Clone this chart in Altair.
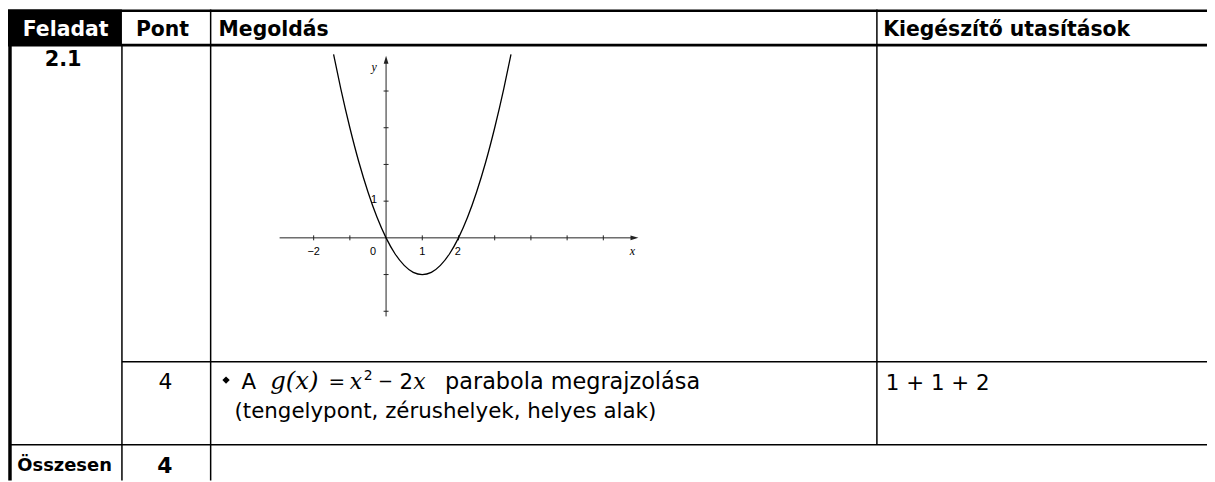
import altair as alt
import pandas as pd

# ---------------- data ----------------
HEADERS = ["Feladat", "Pont", "Megoldás", "Kiegészítő utasítások"]
TASK_ID = "2.1"
ROW_POINTS = "4"
BULLET_WORD = "A"
FORMULA_FUNC = "g(x)"
FORMULA_EQ = "="
FORMULA_BASE = "x"
FORMULA_EXP = "2"
FORMULA_MINUS = "−"
FORMULA_COEF = "2"
FORMULA_VAR = "x"
LINE1_REST = "parabola megrajzolása"
LINE2 = "(tengelypont, zérushelyek, helyes alak)"
NOTE = "1 + 1 + 2"
TOTAL_LABEL = "Összesen"
TOTAL_POINTS = "4"

CURVE_X = [-1.45, -1.25, -1.0, -0.75, -0.5, -0.25, 0.0, 0.25, 0.5, 0.75, 1.0,
           1.25, 1.5, 1.75, 2.0, 2.25, 2.5, 2.75, 3.0, 3.25, 3.45]
CURVE_Y = [5.0, 4.06, 3.0, 2.06, 1.25, 0.56, 0.0, -0.44, -0.75, -0.94, -1.0,
           -0.94, -0.75, -0.44, 0.0, 0.56, 1.25, 2.06, 3.0, 4.06, 5.0]
X_TICKS = [-2, -1, 1, 2, 3, 4, 5, 6]
Y_TICKS = [-2, -1, 1, 2, 3, 4]
X_TICK_LABELS = ["−2", "0", "1", "2"]
Y_TICK_LABELS = ["1"]
AXIS_NAMES = ["x", "y"]

# ---------------- layout (page pixels) ----------------
COL = {"left": 10, "c1": 122.7, "c2": 212, "c3": 882.7, "right": 1215}
ROW = {"top": 9.2, "head": 43.8, "r2": 362.5, "tot": 446, "bottom": 482}

PX = alt.Scale(domain=[8, 1215], range=[0, 1207], nice=False, zero=False)
PY = alt.Scale(domain=[8, 482], range=[0, 474], nice=False, zero=False)
MX = alt.Scale(domain=[-2, 6], range=[307.7, 599.3], nice=False, zero=False)
MY = alt.Scale(domain=[-2, 4], range=[303.7, 82], nice=False, zero=False)


def enc(ch, sx, sy, x="x", y="y"):
    return ch.encode(x=alt.X(f"{x}:Q", scale=sx, axis=None),
                     y=alt.Y(f"{y}:Q", scale=sy, axis=None))


def text_layer(rows, sx, sy, **props):
    df = pd.DataFrame(rows, columns=["t", "x", "y"])
    base = dict(baseline="alphabetic", align="left", color="black", font="DejaVu Sans")
    base.update(props)
    return enc(alt.Chart(df).mark_text(**base), sx, sy).encode(text="t:N")


# ---------------- table ----------------
rules = pd.DataFrame([
    # x, x2, y, y2, w
    (8, COL["right"], ROW["top"], ROW["top"], 2.5),
    (8, COL["right"], ROW["head"], ROW["head"], 3),
    (COL["left"], COL["left"], ROW["head"], ROW["bottom"], 3.5),
    (COL["c1"], COL["c1"], ROW["head"], ROW["bottom"], 1.5),
    (COL["c2"], COL["c2"], 8, ROW["bottom"], 1.5),
    (COL["c3"], COL["c3"], 8, ROW["tot"], 1.5),
    (COL["c1"], COL["right"], ROW["r2"], ROW["r2"], 1.5),
    (COL["left"], COL["right"], ROW["tot"], ROW["tot"], 1.5),
], columns=["x", "x2", "y", "y2", "w"])

rule_layer = alt.Chart(rules).mark_rule(color="black").encode(
    x=alt.X("x:Q", scale=PX, axis=None), x2="x2:Q",
    y=alt.Y("y:Q", scale=PY, axis=None), y2="y2:Q",
    strokeWidth=alt.StrokeWidth("w:Q", scale=None))

head_box = alt.Chart(pd.DataFrame({"x": [8], "x2": [COL["c1"]], "y": [8], "y2": [ROW["head"]]})
                     ).mark_rect(color="black").encode(
    x=alt.X("x:Q", scale=PX, axis=None), x2="x2:Q",
    y=alt.Y("y:Q", scale=PY, axis=None), y2="y2:Q")

bullet = enc(alt.Chart(pd.DataFrame({"x": [227.5], "y": [381]}))
             .mark_point(shape="diamond", filled=True, size=55, color="black", opacity=1), PX, PY)

t_head_white = text_layer([(HEADERS[0], 66, 35)], PX, PY, align="center", color="white",
                          fontWeight="bold", fontSize=20.5)
t_head_c = text_layer([(HEADERS[1], 163.5, 35)], PX, PY, align="center", fontWeight="bold", fontSize=20.5)
t_head_l = text_layer([(HEADERS[2], 220, 35), (HEADERS[3], 889, 35)], PX, PY,
                      fontWeight="bold", fontSize=20.5)
t_task = text_layer([(TASK_ID, 63.5, 65)], PX, PY, align="center", fontWeight="bold", fontSize=21)
t_pts = text_layer([(ROW_POINTS, 166.5, 390)], PX, PY, align="center", fontSize=22)
t_body = text_layer([(BULLET_WORD, 243, 390), (LINE2, 236, 419),
                     (NOTE, 891.7, 391), (FORMULA_COEF, 402, 390)], PX, PY, fontSize=21.5)
t_rest = text_layer([(LINE1_REST, 448, 390)], PX, PY, fontSize=22.5)
t_func = text_layer([(FORMULA_FUNC, 272, 390)], PX, PY, font="DejaVu Serif", fontStyle="italic",
                    fontSize=24.5)
t_math = text_layer([(FORMULA_BASE, 352, 390), (FORMULA_VAR, 416, 390)],
                    PX, PY, font="DejaVu Serif", fontStyle="italic", fontSize=22)
t_eq = text_layer([(FORMULA_EQ, 339, 390)], PX, PY, align="center", font="DejaVu Serif", fontSize=20)
t_exp = text_layer([(FORMULA_EXP, 366, 381)], PX, PY, fontSize=14)
t_minus = text_layer([(FORMULA_MINUS, 388, 388)], PX, PY, align="center", fontSize=18)
t_tot_l = text_layer([(TOTAL_LABEL, 65, 472.7)], PX, PY, align="center", fontWeight="bold", fontSize=18)
t_tot = text_layer([(TOTAL_POINTS, 166, 475)], PX, PY, align="center", fontWeight="bold", fontSize=22)

table = alt.layer(head_box, rule_layer, bullet, t_head_white, t_head_c, t_head_l, t_task,
                  t_pts, t_body, t_rest, t_func, t_math, t_eq, t_exp, t_minus, t_tot_l, t_tot)

# ---------------- sketch of the parabola ----------------
axes = pd.DataFrame([(-2.94, 6.86, 0, 0), (0, 0, -2.14, 4.85)], columns=["x", "x2", "y", "y2"])
axis_layer = alt.Chart(axes).mark_rule(color="#222", strokeWidth=1).encode(
    x=alt.X("x:Q", scale=MX, axis=None), x2="x2:Q",
    y=alt.Y("y:Q", scale=MY, axis=None), y2="y2:Q")

arrow_x = enc(alt.Chart(pd.DataFrame({"x": [6.86], "y": [0]})).mark_point(
    shape="M -1 -0.6 L 1 0 L -1 0.6 Z", size=64, filled=True, color="#222", opacity=1), MX, MY)
arrow_y = enc(alt.Chart(pd.DataFrame({"x": [0], "y": [4.85]})).mark_point(
    shape="M -0.6 1 L 0 -1 L 0.6 1 Z", size=64, filled=True, color="#222", opacity=1), MX, MY)

xt = enc(alt.Chart(pd.DataFrame({"x": X_TICKS, "y": [0] * len(X_TICKS)})).mark_point(
    shape="M 0 -1 L 0 1", size=25, filled=False, color="#222", strokeWidth=1, opacity=1), MX, MY)
yt = enc(alt.Chart(pd.DataFrame({"x": [0] * len(Y_TICKS), "y": Y_TICKS})).mark_point(
    shape="M -1 0 L 1 0", size=25, filled=False, color="#222", strokeWidth=1, opacity=1), MX, MY)

curve = enc(alt.Chart(pd.DataFrame({"x": CURVE_X, "y": CURVE_Y})).mark_line(
    color="black", strokeWidth=1.3, interpolate="monotone"), MX, MY)

lab_x = text_layer(list(zip(X_TICK_LABELS, [-2, -0.36, 1, 1.98], [-0.39] * 4)), MX, MY,
                   align="center", baseline="middle", font="Liberation Sans", fontSize=11)
lab_y = text_layer(list(zip(Y_TICK_LABELS, [-0.33], [1.04])), MX, MY,
                   align="center", baseline="middle", font="Liberation Sans", fontSize=11)
lab_names = text_layer(list(zip(AXIS_NAMES, [6.8, -0.33], [-0.36, 4.66])), MX, MY,
                       align="center", baseline="middle", font="Liberation Serif",
                       fontStyle="italic", fontSize=12)

plot = alt.layer(axis_layer, arrow_x, arrow_y, xt, yt, curve, lab_x, lab_y, lab_names)

chart = alt.layer(table, plot).resolve_scale(x="independent", y="independent").properties(
    width=1207, height=474, padding=0, autosize="none", background="white"
).configure_view(stroke=None)

chart.save("out.html", embed_options={"renderer": "svg", "actions": False})
